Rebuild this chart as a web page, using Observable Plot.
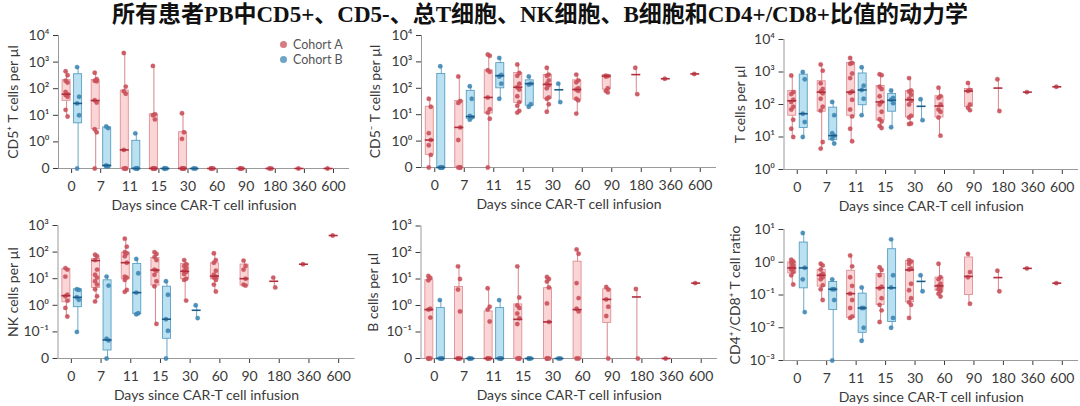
<!DOCTYPE html>
<html>
<head>
<meta charset="utf-8">
<script src="https://cdn.jsdelivr.net/npm/d3@7"></script>
<script src="https://cdn.jsdelivr.net/npm/@observablehq/plot@0.6"></script>
<style>
  html, body { margin: 0; padding: 0; background: #fff; }
  body { width: 1080px; height: 406px; overflow: hidden; }
  #title { height: 30px; line-height: 30px; text-align: center; font-family: "Liberation Serif", "Noto Sans CJK SC", serif; font-weight: 700; font-size: 23px; color: #111; white-space: nowrap; }
  #grid { display: grid; grid-template-columns: 360px 360px 360px; grid-template-rows: 180px 196px; }
  .cell { position: relative; width: 360px; overflow: visible; }
  .cell svg { display: block; overflow: visible; }
  .legend { position: absolute; left: 280px; top: 8px; font-family: Lato, sans-serif; font-size: 12.5px; color: #555; line-height: 14.5px; }
  .legend span.dot { display: inline-block; width: 7px; height: 7px; border-radius: 50%; margin-right: 6px; vertical-align: 1px; }
</style>
</head>
<body>
<div id="title">所有患者PB中CD5+、CD5-、总T细胞、NK细胞、B细胞和CD4+/CD8+比值的动力学</div>
<div id="grid"></div>
<script>
// ---------- Categories ----------
const days = ["0", "7", "11", "15", "30", "60", "90", "180", "360", "600"];
const cohorts = ["Cohort A", "Cohort B"];

// ---------- Panel 1: CD5+ T cells per µl ----------
const cd5posA = [
  [450, 320, 200, 170, 75, 62, 58, 50, 16, 9],
  [400, 230, 200, 190, 37, 30, 3, 2.3, 0],
  [2200, 120, 80, 65, 0.5, 0, 0, 0],
  [720, 11, 10, 7, 0, 0, 0, 0],
  [12, 2.3, 1.3, 0, 0, 0, 0],
  [0, 0, 0],
  [0, 0, 0],
  [0, 0],
  [0],
  [0]
];
const cd5posABox = [[35, 62, 210], [3, 36, 210], [0, 0.5, 85], [0, 0, 11], [0, 0, 2.3], [0, 0, 0], [0, 0, 0], [0, 0, 0], [0, 0, 0], [0, 0, 0]];
const cd5posB = [
  [650, 50, 28, 10, 0],
  [3.8, 3.3, 0.13, 0.12, 0.12],
  [2.1, 0, 0, 0],
  [0, 0, 0],
  [0, 0]
];
const cd5posBBox = [[5, 28, 350], [0.12, 0.13, 3.5], [0, 0, 1.1], [0, 0, 0], [0, 0, 0]];

// ---------- Panel 2: CD5- T cells per µl ----------
const cd5negA = [
  [40, 20, 2, 1.1, 0.7, 0.3, 0],
  [280, 33, 28, 3.3, 1.1, 0, 0, 0],
  [1900, 1700, 480, 420, 45, 16, 12, 7, 0],
  [800, 380, 300, 150, 110, 90, 50, 30, 22, 14, 12],
  [600, 330, 300, 200, 150, 130, 100, 45, 40, 25, 13],
  [330, 200, 170, 100, 90, 80, 40, 35, 11],
  [300, 290, 280, 100, 80, 70],
  [600, 60],
  [230],
  [350]
];
const cd5negABox = [[0.3, 1.1, 20], [0, 3.3, 33], [11, 45, 480], [28, 110, 380], [40, 140, 320], [37, 90, 200], [90, 290, 320], [330, 330, 330], [230, 230, 230], [350, 350, 350]];
const cd5negB = [
  [680, 0, 0, 0, 0],
  [120, 40, 9, 8, 6.5],
  [1400, 320, 280, 150, 40],
  [280, 150, 140, 25, 20],
  [150, 30]
];
const cd5negBBox = [[0, 0, 350], [7, 8.5, 80], [100, 300, 900], [22, 150, 200], [88, 88, 88]];

// ---------- Panel 3: T cells per µl ----------
const tcellA = [
  [780, 240, 210, 140, 120, 85, 70, 34, 18, 10],
  [1700, 1100, 450, 300, 250, 220, 150, 85, 65, 7, 4.4],
  [2700, 1900, 1800, 900, 650, 250, 230, 140, 70, 43, 18, 7.4],
  [850, 800, 350, 300, 180, 120, 100, 60, 35, 30, 22, 19],
  [650, 270, 250, 200, 150, 130, 100, 45, 40, 26, 25],
  [330, 180, 160, 100, 70, 60, 40, 11],
  [460, 280, 260, 100, 80, 67],
  [600, 63],
  [240],
  [350]
];
const tcellABox = [[45, 130, 260], [60, 240, 520], [45, 240, 1900], [32, 120, 370], [40, 140, 260], [40, 90, 180], [85, 260, 300], [320, 320, 320], [240, 240, 240], [350, 350, 350]];
const tcellB = [
  [1000, 600, 52, 29, 10],
  [120, 47, 13, 11, 9, 6.3],
  [1400, 380, 280, 150, 47],
  [270, 160, 140, 110, 20],
  [145, 33]
];
const tcellBBox = [[19, 52, 830], [8, 11, 80], [95, 280, 900], [60, 135, 210], [88, 88, 88]];

// ---------- Panel 4: NK cells per µl ----------
const nkA = [
  [25, 22, 12, 2.5, 2.2, 1.5, 0.8, 0.38],
  [80, 70, 50, 22, 14, 11, 8, 6, 4, 2.2, 1.4],
  [320, 160, 100, 90, 70, 40, 12, 11, 9, 3.8, 3.2],
  [100, 85, 65, 50, 22, 20, 14, 8, 5.2, 0.2],
  [50, 35, 30, 25, 20, 18, 15, 10, 9, 1.5],
  [90, 50, 40, 20, 14, 12, 11, 9, 6, 3.3],
  [48, 30, 22, 10, 6, 5.5],
  [11, 4.7],
  [35],
  [420]
];
const nkABox = [[1.3, 2.3, 23], [4.5, 48, 55], [9.5, 40, 95], [5.5, 21, 60], [9.5, 19, 36], [9.5, 12.5, 38], [5.5, 10, 34], [8, 8, 8], [35, 35, 35], [420, 420, 420]];
const nkB = [
  [4, 3.8, 2, 1.6, 0.1],
  [12, 5.5, 0.055, 0.048, 0],
  [55, 16, 3, 0.5, 0.46],
  [8, 2.5, 0.3, 0.11, 0],
  [1, 0.33]
];
const nkBBox = [[0.85, 2, 4], [0.02, 0.05, 8.7], [0.47, 3, 36], [0.055, 0.3, 5], [0.65, 0.65, 0.65]];

// ---------- Panel 5: B cells per µl ----------
const bcellA = [
  [13, 11, 9, 0.75, 0.7, 0.35, 0, 0, 0],
  [30, 10, 4, 0.6, 0, 0, 0],
  [4.5, 0.9, 0.7, 0.25, 0, 0, 0],
  [30, 2, 1, 0.8, 0.5, 0.33, 0.2, 0, 0, 0],
  [12, 10, 8, 4.8, 1.2, 0.24, 0, 0, 0],
  [130, 90, 7, 1.9, 0.75, 0.6, 0, 0],
  [5, 4, 1.7, 0.9, 0.4, 0],
  [4.2, 0],
  [0],
  [7]
];
const bcellABox = [[0, 0.7, 9], [0, 0, 5], [0, 0, 0.6], [0, 0.3, 1.1], [0, 0.24, 4.5], [0, 0.7, 45], [0.22, 1.7, 4.1], [2.1, 2.1, 2.1], [0, 0, 0], [7, 7, 7]];
const bcellB = [
  [1.6, 0, 0, 0],
  [0, 0, 0],
  [1.6, 0, 0, 0],
  [0, 0, 0],
  [0, 0]
];
const bcellBBox = [[0, 0, 0.8], [0, 0, 0], [0, 0, 0.8], [0, 0, 0], [0, 0, 0]];

// ---------- Panel 6: CD4+/CD8+ T cell ratio ----------
const ratioA = [
  [1.2, 1.05, 0.95, 0.8, 0.7, 0.65, 0.6, 0.5, 0.4, 0.21],
  [0.9, 0.8, 0.6, 0.45, 0.4, 0.35, 0.3, 0.2, 0.15, 0.07],
  [1.6, 0.75, 0.35, 0.19, 0.11, 0.07, 0.04, 0.022, 0.02],
  [0.7, 0.58, 0.4, 0.18, 0.16, 0.08, 0.05, 0.034, 0.015],
  [1.15, 1.05, 0.9, 0.65, 0.6, 0.22, 0.14, 0.08, 0.06, 0.05, 0.02],
  [0.9, 0.35, 0.3, 0.22, 0.19, 0.17, 0.15, 0.13, 0.11, 0.09],
  [1.8, 0.5, 0.35, 0.054],
  [0.55, 0.13],
  [0.65],
  [0.23]
];
const ratioABox = [[0.46, 0.67, 1], [0.18, 0.4, 0.58], [0.02, 0.11, 0.55], [0.05, 0.165, 0.44], [0.06, 0.58, 1.1], [0.135, 0.19, 0.34], [0.1, 0.37, 1.4], [0.34, 0.34, 0.34], [0.65, 0.65, 0.65], [0.23, 0.23, 0.23]];
const ratioB = [
  [7.8, 0.68, 0.3, 0.03],
  [0.3, 0.15, 0.15, 0.07, 0.001],
  [0.17, 0.04, 0.04, 0.01, 0.004],
  [5, 0.4, 0.17, 0.02, 0.01],
  [0.4, 0.13]
];
const ratioBBox = [[0.16, 0.67, 4], [0.035, 0.15, 0.25], [0.007, 0.04, 0.11], [0.015, 0.165, 2.5], [0.26, 0.26, 0.26]];

// ---------- Styles ----------
const styleA = {fill: "#fbd4d5", stroke: "#df9095", whisker: "#d9868c", median: "#b22e3c", dot: "#c94f5a", dx: -5};
const styleB = {fill: "#b9e1f1", stroke: "#5b9ec2", whisker: "#6ba8ca", median: "#1d5c88", dot: "#3e86b4", dx: 6.5};

const panels = [
  {A: cd5posA, Abox: cd5posABox, B: cd5posB, Bbox: cd5posBBox, label: "CD5⁺ T cells per µl", lo: 0, hi: 4, zero: true, h: 180, mt: 5, mb: 42, ml: 58, mr: 11, ldx: -45, legend: true},
  {A: cd5negA, Abox: cd5negABox, B: cd5negB, Bbox: cd5negBBox, label: "CD5⁻ T cells per µl", lo: 0, hi: 4, zero: true, h: 180, mt: 5, mb: 43, ml: 61, mr: 4, ldx: -46},
  {A: tcellA, Abox: tcellABox, B: tcellB, Bbox: tcellBBox, label: "T cells per µl", lo: 0, hi: 4, zero: false, h: 180, mt: 9, mb: 41, ml: 63.5, mr: 2, ldx: -43},
  {A: nkA, Abox: nkABox, B: nkB, Bbox: nkBBox, label: "NK cells per µl", lo: -1, hi: 3, zero: true, h: 196, mt: 15, mb: 48, ml: 57.5, mr: 5.5, ldx: -44},
  {A: bcellA, Abox: bcellABox, B: bcellB, Bbox: bcellBBox, label: "B cells per µl", lo: -1, hi: 3, zero: true, h: 196, mt: 15.5, mb: 48, ml: 60.5, mr: 3, ldx: -47},
  {A: ratioA, Abox: ratioABox, B: ratioB, Bbox: ratioBBox, label: "CD4⁺/CD8⁺ T cell ratio", lo: -3, hi: 1, zero: false, h: 196, mt: 19, mb: 46, ml: 63.5, mr: 2, ldx: -48}
];

const supMap = {"-": "⁻", "0": "⁰", "1": "¹", "2": "²", "3": "³", "4": "⁴"};
const decadeLabel = e => "10" + String(e).split("").map(c => supMap[c]).join("");

function buildRows(points, boxes) {
  const pts = [], grp = [];
  points.forEach((vals, i) => {
    vals.forEach((v, j) => pts.push({x: i, v, j}));
    const [q1, med, q3] = boxes[i];
    grp.push({x: i, lo: d3.min(vals), hi: d3.max(vals), q1, med, q3});
  });
  return {pts, grp};
}

function cohortMarks(points, boxes, st, Y) {
  const {pts, grp} = buildRows(points, boxes);
  const even = pts.filter(d => d.j % 2 === 0), odd = pts.filter(d => d.j % 2 === 1);
  return [
    Plot.ruleX(grp, {x: "x", y1: d => Y(d.lo), y2: d => Y(d.hi), dx: st.dx, stroke: st.whisker, strokeWidth: 1}),
    Plot.rect(grp, {x1: "x", x2: "x", y1: d => Y(d.q1), y2: d => Y(d.q3), dx: st.dx, insetLeft: -4, insetRight: -4, fill: st.fill, stroke: st.stroke, strokeWidth: 0.9}),
    Plot.dot(even, {x: "x", y: d => Y(d.v), dx: st.dx - 1, r: 2.2, fill: st.dot, fillOpacity: 0.9, stroke: st.dot, strokeOpacity: 0.5, strokeWidth: 0.6}),
    Plot.dot(odd, {x: "x", y: d => Y(d.v), dx: st.dx + 1, r: 2.2, fill: st.dot, fillOpacity: 0.9, stroke: st.dot, strokeOpacity: 0.5, strokeWidth: 0.6}),
    Plot.ruleY(grp, {y: d => Y(d.med), x1: "x", x2: "x", dx: st.dx, insetLeft: -4.5, insetRight: -4.5, stroke: st.median, strokeWidth: 1.6})
  ];
}

const grid = document.getElementById("grid");
const xDomain = [-0.45, 9.55];

panels.forEach(p => {
  const floor = p.zero ? Math.pow(10, p.lo - 1) : Math.pow(10, p.lo);
  const Y = v => (v === 0 ? floor : v);
  const tickVals = [];
  if (p.zero) tickVals.push(floor);
  for (let e = p.lo; e <= p.hi; e++) tickVals.push(Math.pow(10, e));

  const chart = Plot.plot({
    width: 360,
    height: p.h,
    marginTop: p.mt,
    marginBottom: p.mb,
    marginLeft: p.ml,
    marginRight: p.mr,
    style: {fontFamily: "Lato, sans-serif", fontSize: "14px", color: "#3a3a3a", background: "transparent", overflow: "visible"},
    x: {type: "linear", domain: xDomain, ticks: days.map((_, i) => i), tickFormat: i => days[i], tickSize: 5, tickPadding: 8, label: null},
    y: {type: "log", domain: [floor, Math.pow(10, p.hi)], ticks: tickVals, tickFormat: v => (p.zero && Math.abs(v - floor) < floor * 1e-6) ? "0" : decadeLabel(Math.round(Math.log10(v))), tickSize: 5, tickPadding: 4, label: null},
    marks: [
      Plot.ruleY([floor], {stroke: "#9a9a9a", strokeWidth: 1}),
      Plot.ruleX([xDomain[0]], {stroke: "#9a9a9a", strokeWidth: 1}),
      ...cohortMarks(p.A, p.Abox, styleA, Y),
      ...cohortMarks(p.B, p.Bbox, styleB, Y),
      Plot.text(["Days since CAR-T cell infusion"], {frameAnchor: "bottom", dy: 37, lineAnchor: "middle", fontSize: 14, fill: "#3a3a3a"}),
      Plot.text([p.label], {frameAnchor: "left", dx: p.ldx, rotate: -90, lineAnchor: "middle", textAnchor: "middle", fontSize: 14, fill: "#3a3a3a"})
    ]
  });
  const cell = document.createElement("div");
  cell.className = "cell";
  cell.appendChild(chart);
  if (p.legend) {
    const lg = document.createElement("div");
    lg.className = "legend";
    lg.innerHTML = `<div><span class="dot" style="background:${styleA.dot};opacity:.75"></span>${cohorts[0]}</div>` +
                   `<div><span class="dot" style="background:${styleB.dot};opacity:.75"></span>${cohorts[1]}</div>`;
    cell.appendChild(lg);
  }
  grid.appendChild(cell);
});
</script>
</body>
</html>
